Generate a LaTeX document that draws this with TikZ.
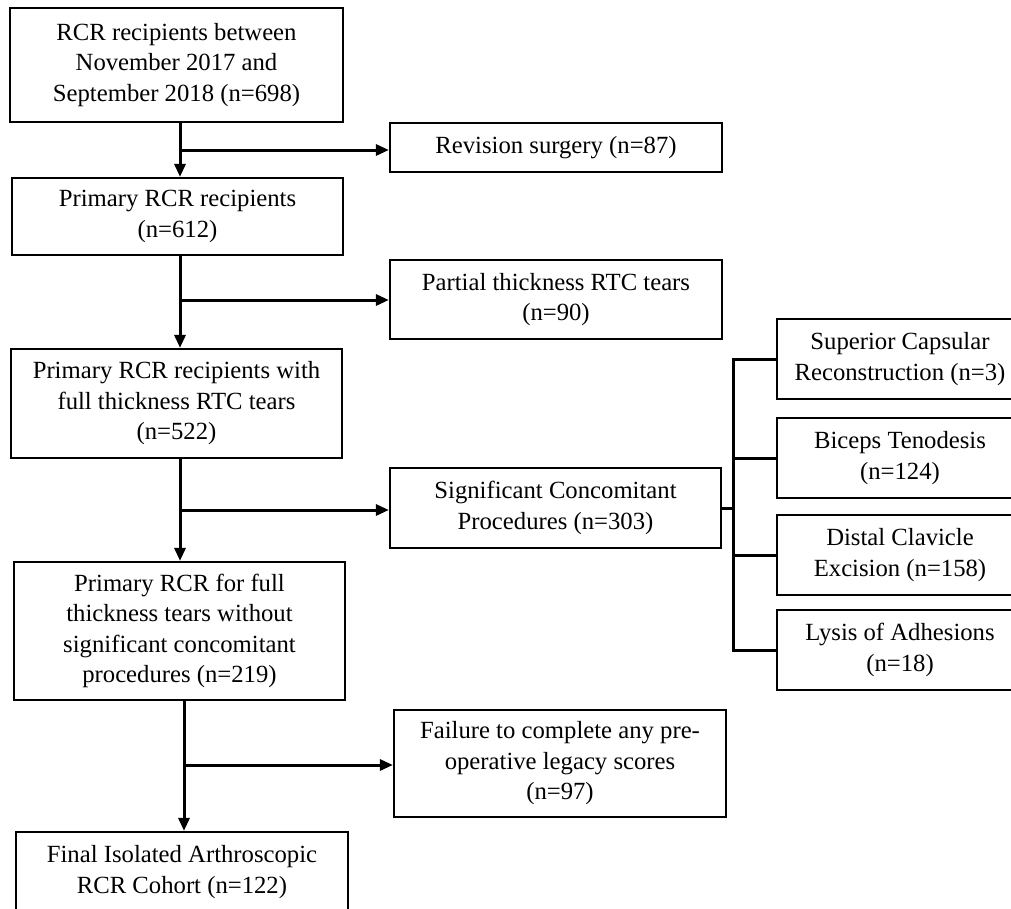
\documentclass[tikz,border=0pt]{standalone}
\usepackage{fontspec}
\setmainfont{Liberation Serif}
\usetikzlibrary{arrows.meta}
\begin{document}
\begin{tikzpicture}[x=1pt,y=-1pt,
  box/.style={draw=black, line width=2.2pt, inner sep=0pt, align=center,
    font=\fontsize{24.7}{30.5}\selectfont, text=black},
  arr/.style={line width=3pt, -{Triangle[length=13pt,width=11pt]}},
  link/.style={line width=3pt}]
\useasboundingbox (0,0) rectangle (1011,908);
\clip (0,0) rectangle (1011,908);
\fill[white] (0,0) rectangle (1011,908);

\node[box, minimum width=333pt, minimum height=114pt] (b1) at (176.5,65)
  {RCR recipients between\\November 2017 and\\September 2018 (n=698)};
\node[box, minimum width=332pt, minimum height=49pt] (rev) at (556,147.5)
  {Revision surgery (n=87)};
\node[box, minimum width=331pt, minimum height=77pt] (b2) at (177.5,216.5)
  {Primary RCR recipients\\(n=612)};
\node[box, minimum width=332pt, minimum height=79pt] (part) at (556,299.5)
  {Partial thickness RTC tears\\(n=90)};
\node[box, minimum width=331pt, minimum height=109pt] (b3) at (176.5,403.5)
  {Primary RCR recipients with\\full thickness RTC tears\\(n=522)};
\node[box, minimum width=331pt, minimum height=80pt] (sig) at (555.5,508)
  {Significant Concomitant\\Procedures (n=303)};
\node[box, minimum width=331pt, minimum height=138pt] (b4) at (179.5,631)
  {Primary RCR for full\\thickness tears without\\significant concomitant\\procedures (n=219)};
\node[box, minimum width=332pt, minimum height=107pt] (fail) at (560,763.5)
  {Failure to complete any pre-\\operative legacy scores\\(n=97)};
\node[box, minimum width=332pt, minimum height=80pt] (fin) at (182,872)
  {Final Isolated Arthroscopic\\RCR Cohort (n=122)};

\node[box, minimum width=246pt, minimum height=80pt] (sup) at (900,359)
  {Superior Capsular\\Reconstruction (n=3)};
\node[box, minimum width=246pt, minimum height=80pt] (bic) at (900,458)
  {Biceps Tenodesis\\(n=124)};
\node[box, minimum width=246pt, minimum height=80pt] (dis) at (900,555)
  {Distal Clavicle\\Excision (n=158)};
\node[box, minimum width=246pt, minimum height=80pt] (lys) at (900,650)
  {Lysis of Adhesions\\(n=18)};

\coordinate (s1) at (180,150);
\coordinate (s2) at (180,300);
\coordinate (s3) at (180,510);
\coordinate (s4) at (184,765);
\coordinate (bus) at (733,0);

\draw[arr] (b1.south -| s1) -- (b2.north -| s1);
\draw[arr] (s1) -- (rev.west |- s1);
\draw[arr] (b2.south -| s2) -- (b3.north -| s2);
\draw[arr] (s2) -- (part.west |- s2);
\draw[arr] (b3.south -| s3) -- (b4.north -| s3);
\draw[arr] (s3) -- (sig.west |- s3);
\draw[arr] (b4.south -| s4) -- (fin.north -| s4);
\draw[arr] (s4) -- (fail.west |- s4);

\draw[link] (sig.east) -- (sig.east -| bus);
\draw[link, line cap=rect] (sup.west -| bus) -- (lys.west -| bus);
\draw[link] (sup.west -| bus) -- (sup.west);
\draw[link] (bic.west -| bus) -- (bic.west);
\draw[link] (dis.west -| bus) -- (dis.west);
\draw[link] (lys.west -| bus) -- (lys.west);
\end{tikzpicture}
\end{document}
